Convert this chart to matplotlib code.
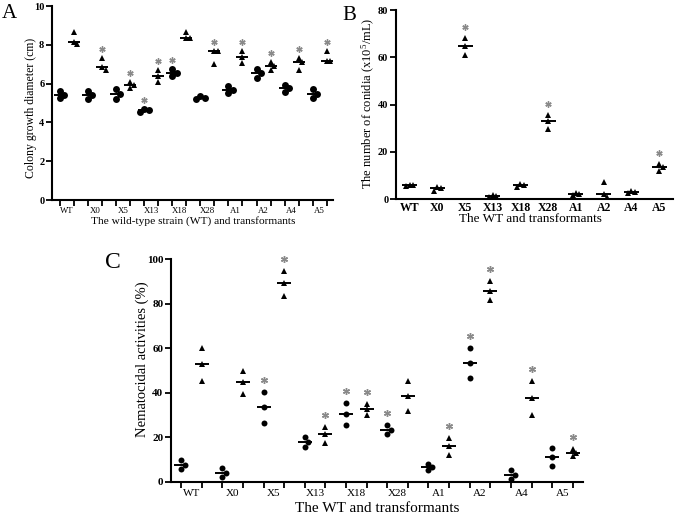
import numpy as np
import matplotlib
matplotlib.use("Agg")
import matplotlib.pyplot as plt
from matplotlib.transforms import ScaledTranslation

plt.rcParams['font.family'] = ['Liberation Serif', 'DejaVu Serif']
plt.rcParams['mathtext.fontset'] = 'custom'
plt.rcParams['mathtext.rm'] = 'Liberation Serif'
plt.rcParams['mathtext.it'] = 'Liberation Serif:italic'
plt.rcParams['mathtext.bf'] = 'Liberation Serif:bold'

# ---------------- data ----------------
groups = ['WT', 'X0', 'X5', 'X13', 'X18', 'X28', 'A1', 'A2', 'A4', 'A5']

# Panel A: colony growth diameter (cm)
a_circle = [[5.62, 5.43, 5.28], [5.60, 5.40, 5.20], [5.70, 5.47, 5.20], [4.70, 4.62, 4.53],
            [6.74, 6.55, 6.38], [5.38, 5.26, 5.20], [5.86, 5.69, 5.52], [6.76, 6.55, 6.28],
            [5.91, 5.76, 5.55], [5.71, 5.48, 5.28]]
a_tri = [[8.64, 8.16, 8.02], [7.34, 6.88, 6.70], [6.10, 5.95, 5.78], [6.69, 6.38, 6.07],
         [8.64, 8.33, 8.33], [7.70, 7.70, 7.03], [7.67, 7.38, 7.07], [7.10, 6.91, 6.69],
         [7.33, 7.09, 6.69], [7.69, 7.19, 7.19]]
a_circle_sig = [0, 0, 0, 1, 1, 0, 0, 0, 0, 0]
a_tri_sig = [0, 1, 1, 1, 0, 1, 1, 1, 1, 1]
a_yticks = [0, 2, 4, 6, 8, 10]

# Panel B: number of conidia (x10^5/mL)
b_tri = [[6.2, 5.9, 5.8], [5.3, 4.6, 3.6], [68.3, 64.8, 61.0], [1.7, 1.4, 0.8],
         [6.4, 6.0, 5.1], [35.8, 32.9, 29.8], [2.6, 2.2, 1.9], [7.4, 2.1, 0.8],
         [3.6, 3.1, 2.5], [15.1, 13.5, 11.9]]
b_sig = [0, 0, 1, 0, 0, 1, 0, 0, 0, 1]
b_yticks = [0, 20, 40, 60, 80]

# Panel C: nematocidal activities (%)
c_circle = [[9.8, 7.5, 5.6], [6.0, 4.1, 2.0], [40.2, 33.4, 26.3], [20.0, 17.7, 15.5],
            [35.3, 30.4, 25.3], [25.3, 23.3, 21.4], [8.0, 6.5, 5.3], [60.1, 53.3, 46.8],
            [5.3, 3.0, 1.1], [15.0, 11.3, 7.2]]
c_tri = [[60.0, 52.7, 45.1], [49.9, 44.7, 39.5], [94.9, 89.5, 83.7], [24.8, 21.4, 17.3],
         [35.0, 32.6, 29.8], [45.1, 38.6, 32.0], [19.8, 15.9, 11.9], [90.1, 85.9, 81.5],
         [45.1, 37.6, 30.1], [14.9, 13.1, 11.6]]
c_circle_sig = [0, 0, 1, 0, 1, 1, 0, 1, 0, 0]
c_tri_sig = [0, 0, 1, 1, 1, 0, 1, 1, 1, 1]
c_yticks = [0, 20, 40, 60, 80, 100]

# ---------------- figure ----------------
W, H = 675, 517
DPI = 100
fig = plt.figure(figsize=(W / DPI, H / DPI), dpi=DPI)


def ax_px(l, t, r, b):
    return fig.add_axes([l / W, 1 - b / H, (r - l) / W, (b - t) / H])


STAR_GRAY = '#8a8a8a'


def swarm_offsets(ax, x, vals, diam_px, step_px):
    """Simple beeswarm: horizontal pixel offsets so close points do not overlap."""
    order = np.argsort(vals)[::-1]
    ypx = ax.transData.transform(np.column_stack([np.full(len(vals), x), vals]))[:, 1]
    offs = np.zeros(len(vals))
    placed = []
    for i in order:
        for k in [0, 1, -1, 2, -2, 3, -3]:
            cand = k * step_px
            ok = True
            for j in placed:
                if abs(ypx[i] - ypx[j]) < 0.9 * diam_px and abs(offs[j] - cand) < 0.5 * step_px:
                    ok = False
                    break
            if ok:
                offs[i] = cand
                break
        placed.append(i)
    return offs


def draw_group(ax, x, vals, marker, ms, line_px, sig, star_dy, star_ms):
    vals = np.asarray(vals, dtype=float)
    diam_px = ms * DPI / 72.0
    offs = swarm_offsets(ax, x, vals, diam_px, 0.62 * diam_px)
    # median line
    med = np.median(vals)
    xc_px = ax.transData.transform((x, med))[0]
    x0 = ax.transData.inverted().transform((xc_px - line_px / 2, 0))[0]
    x1 = ax.transData.inverted().transform((xc_px + line_px / 2, 0))[0]
    ax.plot([x0, x1], [med, med], color='black', lw=1.4, zorder=2, solid_capstyle='butt')
    for v, o in zip(vals, offs):
        tr = ax.transData + ScaledTranslation(o / DPI, 0, fig.dpi_scale_trans)
        ax.plot([x], [v], marker=marker, ms=ms, color='black', mec='black', mew=0,
                linestyle='none', transform=tr, zorder=3, clip_on=False)
    if sig:
        tr = ax.transData + ScaledTranslation(0, star_dy / DPI, fig.dpi_scale_trans)
        ax.plot([x], [vals.max()], marker=(6, 2, 0), ms=star_ms, color=STAR_GRAY,
                mew=1.0, linestyle='none', transform=tr, zorder=3, clip_on=False)


def style_axes(ax):
    for s in ['top', 'right']:
        ax.spines[s].set_visible(False)
    for s in ['left', 'bottom']:
        ax.spines[s].set_linewidth(1.5)
        ax.spines[s].set_color('black')


# ---------------- Panel A ----------------
axA = ax_px(52, 6, 333, 200)
style_axes(axA)
axA.set_xlim(-0.57, 19.45)
axA.set_ylim(0, 10)
axA.set_yticks(a_yticks)
axA.set_yticklabels([str(t) for t in a_yticks], fontsize=7.5, fontweight='bold')
pos = np.arange(20)
axA.set_xticks(pos)
axA.set_xticklabels([''] * 20)
axA.set_xticks(np.arange(10) * 2 + 0.5, minor=True)
axA.set_xticklabels(groups, minor=True, fontsize=6.3)
axA.tick_params(axis='x', which='minor', length=0, pad=5)
axA.tick_params(axis='both', which='major', length=4, width=1.3, direction='out', pad=1.5)
for i in range(10):
    draw_group(axA, 2 * i, a_circle[i], 'o', 5.0, 12, a_circle_sig[i], 9, 4.5)
    draw_group(axA, 2 * i + 1, a_tri[i], '^', 4.0, 12, a_tri_sig[i], 9, 4.5)
axA.set_ylabel('Colony growth diameter (cm)', fontsize=8.5)
axA.yaxis.set_label_coords((37 - 52) / 281, 0.472)
axA.set_xlabel('The wild-type strain (WT) and transformants', fontsize=8.2)
axA.xaxis.set_label_coords(0.502, (200 - 216.5) / 194)
fig.text(2 / W, 1 - 18 / H, 'A', fontsize=15, va='baseline', ha='left')

# ---------------- Panel B ----------------
axB = ax_px(396, 10, 673, 199.3)
style_axes(axB)
axB.set_xlim(-0.49, 9.5)
axB.set_ylim(0, 80)
axB.set_yticks(b_yticks)
axB.set_yticklabels([str(t) for t in b_yticks], fontsize=7.5, fontweight='bold')
axB.set_xticks(np.arange(10))
axB.set_xticklabels(groups, fontsize=8.5, fontweight='bold')
axB.tick_params(axis='x', length=0, pad=2)
axB.tick_params(axis='y', length=4, width=1.3, direction='out', pad=1.5)
for i in range(10):
    draw_group(axB, i, b_tri[i], '^', 4.0, 15, b_sig[i], 11, 4.5)
axB.set_ylabel(r'The number of conidia (x10$^{5}$/mL)', fontsize=9)
axB.yaxis.set_label_coords((377 - 396) / 277, 0.506)
axB.set_xlabel('The WT and transformants', fontsize=9.5)
axB.xaxis.set_label_coords(0.484, (199.3 - 213.5) / 189.3)
fig.text(342 / W, 1 - 20 / H, 'B', fontsize=15, va='baseline', ha='left')

# ---------------- Panel C ----------------
axC = ax_px(171, 259.3, 583.3, 481.7)
style_axes(axC)
axC.set_xlim(-0.49, 19.51)
axC.set_ylim(0, 100)
axC.set_yticks(c_yticks)
axC.set_yticklabels([str(t) for t in c_yticks], fontsize=8, fontweight='bold')
axC.set_xticks(pos)
axC.set_xticklabels([''] * 20)
axC.set_xticks(np.arange(10) * 2 + 0.5, minor=True)
axC.set_xticklabels(groups, minor=True, fontsize=8)
axC.tick_params(axis='x', which='minor', length=0, pad=5)
axC.tick_params(axis='both', which='major', length=4, width=1.3, direction='out', pad=1.5)
for i in range(10):
    draw_group(axC, 2 * i, c_circle[i], 'o', 4.3, 14, c_circle_sig[i], 12, 5)
    draw_group(axC, 2 * i + 1, c_tri[i], '^', 4.0, 14, c_tri_sig[i], 12, 5)
axC.set_ylabel('Nematocidal activities (%)', fontsize=10.5)
axC.yaxis.set_label_coords((149 - 171) / 412.3, 0.55)
axC.set_xlabel('The WT and transformants', fontsize=11)
axC.xaxis.set_label_coords(0.5, (481.7 - 502.5) / 222.4)
fig.text(105 / W, 1 - 268 / H, 'C', fontsize=17, va='baseline', ha='left')

fig.savefig('out.png', dpi=DPI)
